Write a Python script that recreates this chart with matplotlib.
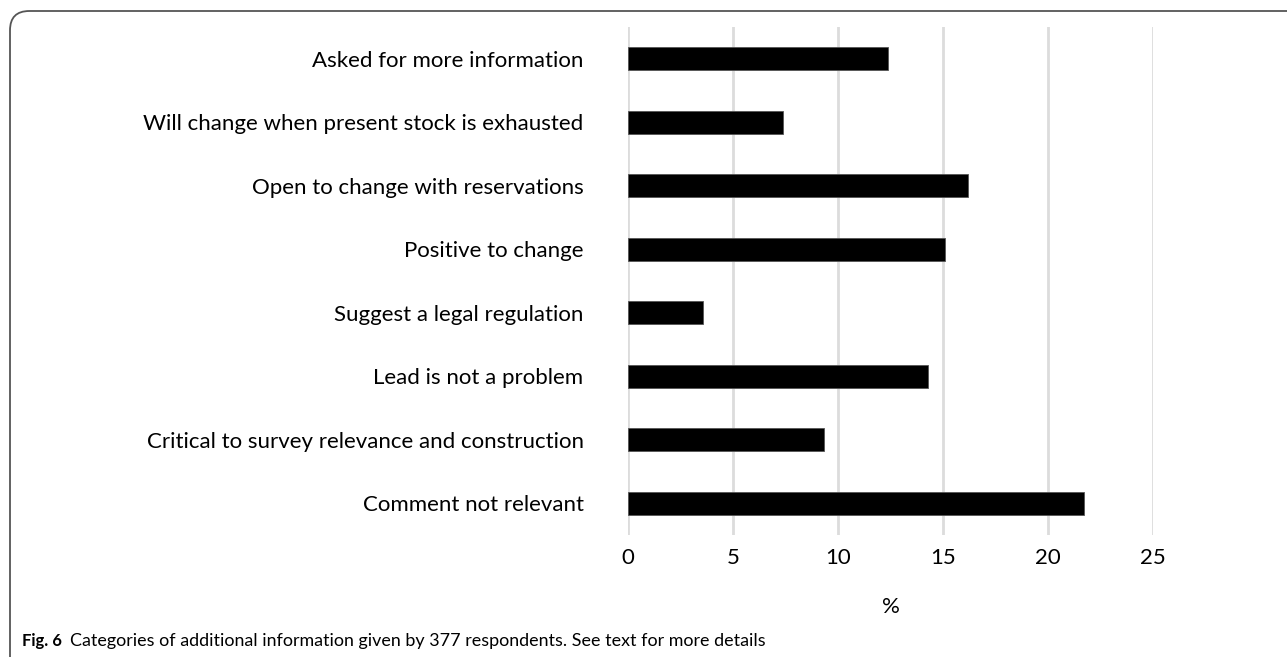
import matplotlib
matplotlib.use("Agg")
import matplotlib.pyplot as plt
from matplotlib.patches import FancyBboxPatch

# data, top to bottom as shown
categories = [
    "Asked for more information",
    "Will change when present stock is exhausted",
    "Open to change with reservations",
    "Positive to change",
    "Suggest a legal regulation",
    "Lead is not a problem",
    "Critical to survey relevance and construction",
    "Comment not relevant",
]
percent = [12.4, 7.4, 16.2, 15.1, 3.55, 14.3, 9.35, 21.7]
xticks = [0, 5, 10, 15, 20, 25]

W, H = 1287, 657
fig = plt.figure(figsize=(W / 100, H / 100), dpi=100)
plt.rcParams['font.family'] = ['Lato', 'DejaVu Sans']

# rounded frame, only top and left edges fall inside the image
frame = FancyBboxPatch((10 / W, -0.5), 1.5, 1.5 - 11 / H,
                       boxstyle="round,pad=0,rounding_size=0.015",
                       mutation_aspect=W / H,
                       transform=fig.transFigure, fill=False,
                       edgecolor='#555555', linewidth=1.3, clip_on=False)
fig.patches.append(frame)

left, right = 628 / W, 1153 / W
top, bottom = 1 - 27 / H, 1 - 535 / H
ax = fig.add_axes([left, bottom, right - left, top - bottom])

ypos = list(range(len(categories)))[::-1]
ax.barh(ypos, percent, height=0.36, color='black', edgecolor='#555555',
        linewidth=0.6, zorder=3)

ax.set_xlim(0, 25)
ax.set_ylim(-0.5, len(categories) - 0.5)
ax.set_xticks(xticks)
ax.set_xticklabels([str(t) for t in xticks], fontsize=16)
ax.set_yticks(ypos)
ax.set_yticklabels(categories, fontsize=16)
ax.tick_params(axis='both', length=0, colors='black')
ax.tick_params(axis='y', pad=32)
ax.tick_params(axis='x', pad=9)
ax.xaxis.grid(True, color='#dcdcdc', linewidth=2, zorder=0)
for s in ax.spines.values():
    s.set_visible(False)

ax.set_xlabel('%', fontsize=16, labelpad=21)

fig.text(22 / W, 1 - 641 / H, "Fig. 6", fontsize=12, fontweight='bold',
         va='center', ha='left')
fig.text(70 / W, 1 - 641 / H,
         "Categories of additional information given by 377 respondents. See text for more details",
         fontsize=12.9, va='center', ha='left')

fig.savefig("out.png", dpi=100)
